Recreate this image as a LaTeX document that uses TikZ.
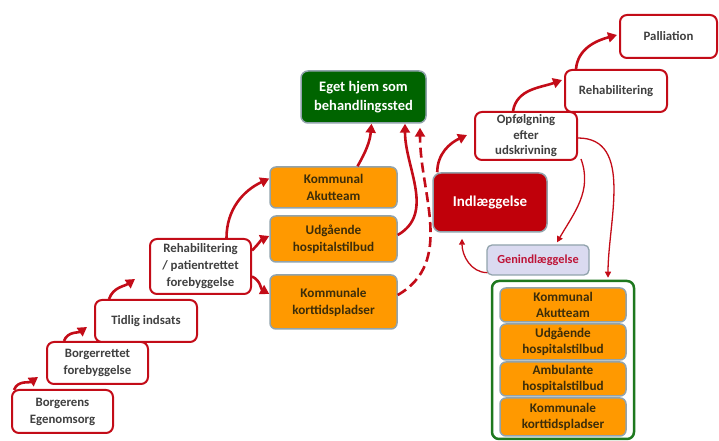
\documentclass[tikz,border=0pt]{standalone}
\usepackage{fontspec}
\setmainfont{Carlito}
\usetikzlibrary{arrows.meta}
\definecolor{rodkant}{RGB}{195,12,24}
\definecolor{tekst}{RGB}{64,64,64}
\definecolor{orangefyld}{RGB}{255,153,0}
\definecolor{orangetekst}{RGB}{60,45,10}
\definecolor{graakant}{RGB}{145,163,172}
\definecolor{gronfyld}{RGB}{0,100,0}
\definecolor{gronkant}{RGB}{30,120,30}
\definecolor{indlfyld}{RGB}{192,0,10}
\definecolor{lillafyld}{RGB}{218,218,240}
\definecolor{lillatekst}{RGB}{190,20,55}

\tikzset{
  trin/.style={draw=rodkant,line width=2pt,rounded corners=7pt,fill=white,align=center,
    text=tekst,font=\bfseries\fontsize{12.8}{17}\selectfont,inner sep=0pt},
  tilbud/.style={draw=graakant,line width=1.5pt,rounded corners=6pt,fill=orangefyld,align=center,
    text=orangetekst,font=\bfseries\fontsize{13.2}{17}\selectfont,inner sep=0pt,minimum width=127pt},
  tilbud2/.style={tilbud,minimum width=126pt},
  pil/.style={draw=rodkant,line width=2.6pt,-{Triangle[length=9pt,width=10pt]}},
  tyndpil/.style={draw=rodkant,line width=1.3pt,-{Triangle[length=6pt,width=6pt]}}
}

\begin{document}
\begin{tikzpicture}[x=1pt,y=1pt]
\useasboundingbox (0,0) rectangle (719,441);

% trappen
\node[trin,minimum width=101pt,minimum height=43pt] (egen) at (62.5,29.5) {Borgerens\\Egenomsorg};
\node[trin,minimum width=101pt,minimum height=42pt] (borger) at (97.5,78) {Borgerrettet\\forebyggelse};
\node[trin,minimum width=102pt,minimum height=42pt] (tidlig) at (146,120) {Tidlig indsats};
\node[trin,minimum width=101pt,minimum height=55pt] (rehab1) at (200.5,174.5) {Rehabilitering\\/ patientrettet\\forebyggelse};

% kommunale tilbud
\node[tilbud,minimum height=41pt] (akut1) at (333.5,253.5) {Kommunal\\Akutteam};
\node[tilbud,minimum height=46pt] (udg1) at (333.5,202) {Udgående\\hospitalstilbud};
\node[tilbud,minimum height=54pt] (kort1) at (333.5,139) {Kommunale\\korttidspladser};

\node[draw=graakant,line width=1.5pt,rounded corners=7pt,fill=gronfyld,text=white,align=center,
  font=\bfseries\fontsize{14.5}{19}\selectfont,minimum width=125pt,minimum height=52pt,inner sep=0pt]
  (hjem) at (363.5,344) {Eget hjem som\\behandlingssted};

% hospital
\node[draw=graakant,line width=1.5pt,rounded corners=8pt,fill=indlfyld,text=white,
  font=\bfseries\fontsize{15}{19}\selectfont,minimum width=114pt,minimum height=59pt,inner sep=0pt]
  (indl) at (490,238.5) {Indlæggelse};
\node[trin,minimum width=102pt,minimum height=48pt,font=\bfseries\fontsize{12.8}{15.5}\selectfont]
  (opf) at (526,305) {Opfølgning\\efter\\udskrivning};
\node[trin,minimum width=102pt,minimum height=42pt] (rehab2) at (616,350) {Rehabilitering};
\node[trin,minimum width=97pt,minimum height=43pt] (pall) at (668.5,404.5) {Palliation};
\node[draw=graakant,line width=1.3pt,rounded corners=5pt,fill=lillafyld,text=lillatekst,
  font=\bfseries\fontsize{12.3}{15}\selectfont,minimum width=102pt,minimum height=30pt,inner sep=0pt]
  (genindl) at (538,181) {Genindlæggelse};

% ramme med tilbud efter udskrivning
\node[draw=gronkant,line width=2.5pt,rounded corners=7pt,fill=white,minimum width=142pt,
  minimum height=158pt] (ramme) at (563,81) {};
\node[tilbud2,minimum height=34pt,font=\bfseries\fontsize{13.2}{16}\selectfont] (akut2) at (563,136) {Kommunal\\Akutteam};
\node[tilbud2,minimum height=36pt,font=\bfseries\fontsize{13.2}{16}\selectfont] (udg2) at (563,99) {Udgående\\hospitalstilbud};
\node[tilbud2,minimum height=34pt,font=\bfseries\fontsize{13.2}{16}\selectfont] (amb) at (563,62) {Ambulante\\hospitalstilbud};
\node[tilbud2,minimum height=38pt,font=\bfseries\fontsize{13.2}{16}\selectfont] (kort2) at (563,24) {Kommunale\\korttidspladser};

% pilespidser
\coordinate (s1) at (38,64);
\coordinate (s2) at (87,114);
\coordinate (s3) at (135,162);
\coordinate (s4) at (467,306);
\coordinate (s5) at (562,361);
\coordinate (s6) at (617,406);

\draw[pil] ([xshift=3pt,yshift=-1pt]egen.north west) to[out=70,in=215] (s1);
\draw[pil] ([xshift=18pt]borger.north west) to[out=70,in=215] (s2);
\draw[pil] ([xshift=15pt]tidlig.north west) to[out=70,in=215] (s3);
\draw[pil] ([xshift=26pt]rehab1.north) to[out=90,in=205] ([yshift=9pt]akut1.west);
\draw[pil] ([yshift=16pt]rehab1.east) to[out=45,in=205] ([yshift=3pt]udg1.west);
\draw[pil] ([yshift=-10pt]rehab1.east) to[out=-25,in=150] ([yshift=8pt]kort1.west);

\draw[pil] ([xshift=24pt]akut1.north) to[out=60,in=-95] ([xshift=8pt]hjem.south);
\draw[pil] ([yshift=4pt]udg1.east) to[out=30,in=-90] ([xshift=41.5pt]hjem.south);
\draw[pil,dash pattern=on 10pt off 5pt] ([yshift=7pt]kort1.east) to[out=30,in=-90] ([xshift=56.5pt,yshift=-4pt]hjem.south);

\draw[pil] ([xshift=5pt]indl.north west) to[out=90,in=205] (s4);
\draw[pil] ([xshift=-13pt]opf.north) to[out=80,in=200] (s5);
\draw[pil] ([xshift=12pt]rehab2.north west) to[out=85,in=195] (s6);

\draw[tyndpil] ([xshift=3pt,yshift=2pt]opf.south east) to[out=-70,in=60] ([xshift=19pt,yshift=2pt]genindl.north);
\draw[tyndpil] ([yshift=-2pt]opf.east) to[out=0,in=90] ([xshift=45pt,yshift=2pt]ramme.north);
\draw[tyndpil] ([xshift=1pt,yshift=3pt]genindl.south west) to[out=180,in=-90] ([xshift=-28pt,yshift=-6pt]indl.south);
\end{tikzpicture}
\end{document}
